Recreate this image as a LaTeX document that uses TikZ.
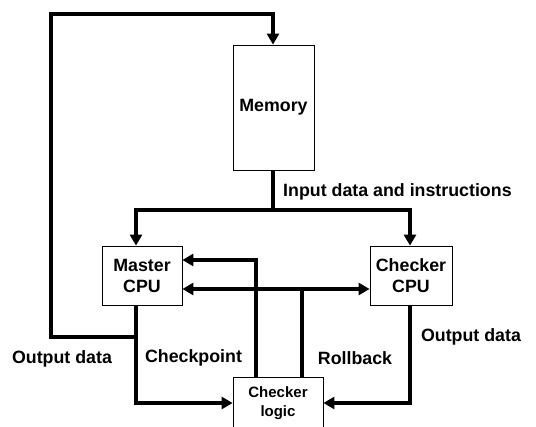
\documentclass[tikz,border=0pt]{standalone}
\usepackage{fontspec}
\setmainfont{Liberation Sans}
\usetikzlibrary{arrows.meta,positioning}
\begin{document}
\begin{tikzpicture}[x=1pt,y=-1pt,
  box/.style={draw, line width=0.8pt, rectangle, align=center, inner sep=0pt,
    font=\fontsize{17.8}{21}\selectfont\bfseries},
  bus/.style={line width=4pt},
  arr/.style={bus,-{Triangle[length=11pt,width=12pt]}},
  darr/.style={bus,{Triangle[length=11pt,width=12pt]}-{Triangle[length=11pt,width=12pt]}},
  lbl/.style={font=\fontsize{17.8}{21}\selectfont\bfseries, inner sep=0pt}]
\useasboundingbox (0,0) rectangle (536,427);
\clip (0,0) rectangle (536,427);
\node[box, minimum width=81pt, minimum height=125pt] (mem) at (273.5,107.5) {Memory};
\node[box, minimum width=80pt, minimum height=59pt] (master) at (142,275.5) {Master\\CPU};
\node[box, minimum width=82pt, minimum height=59pt] (chk) at (411,275.5) {Checker\\CPU};
\node[box, minimum width=90pt, minimum height=52pt, font=\fontsize{15}{19}\selectfont\bfseries] (logic) at (278,403) {Checker\\logic};
% labels
\node[lbl, anchor=west] (lin) at (283,192) {Input data and instructions};
\node[lbl] (lout1) at (62,359) {Output data};
\node[lbl] (lcp) at (193.5,358) {Checkpoint};
\node[lbl] (lrb) at (355,358) {Rollback};
\node[lbl] (lout2) at (471,337) {Output data};
% coordinates
\coordinate (ij) at (273,210);
\coordinate (oj) at (136,337);
% input bus
\draw[bus] (mem.south -| ij) -- (ij);
\draw[arr] ([xshift=2pt]ij) -| ([xshift=-6pt]master.north);
\draw[arr] ([xshift=-2pt]ij) -| ([xshift=-1pt]chk.north);
% output data loop
\draw[arr] (oj) -| (51,14) -| (mem.north -| ij);
\draw[arr] ([xshift=-6pt]master.south) |- (logic.west);
\draw[arr] ([xshift=-1pt]chk.south) |- (logic.east);
% checkpoint
\draw[arr] ([xshift=-22pt]logic.north) |- ([yshift=15.5pt]master.east);
% rollback
\coordinate (rb) at ([xshift=24pt]logic.north);
\draw[bus] (rb) -- (rb |- 0,289);
\draw[darr] ([yshift=-13.5pt]master.east) -- ([yshift=-13.5pt]chk.west);
\end{tikzpicture}
\end{document}
